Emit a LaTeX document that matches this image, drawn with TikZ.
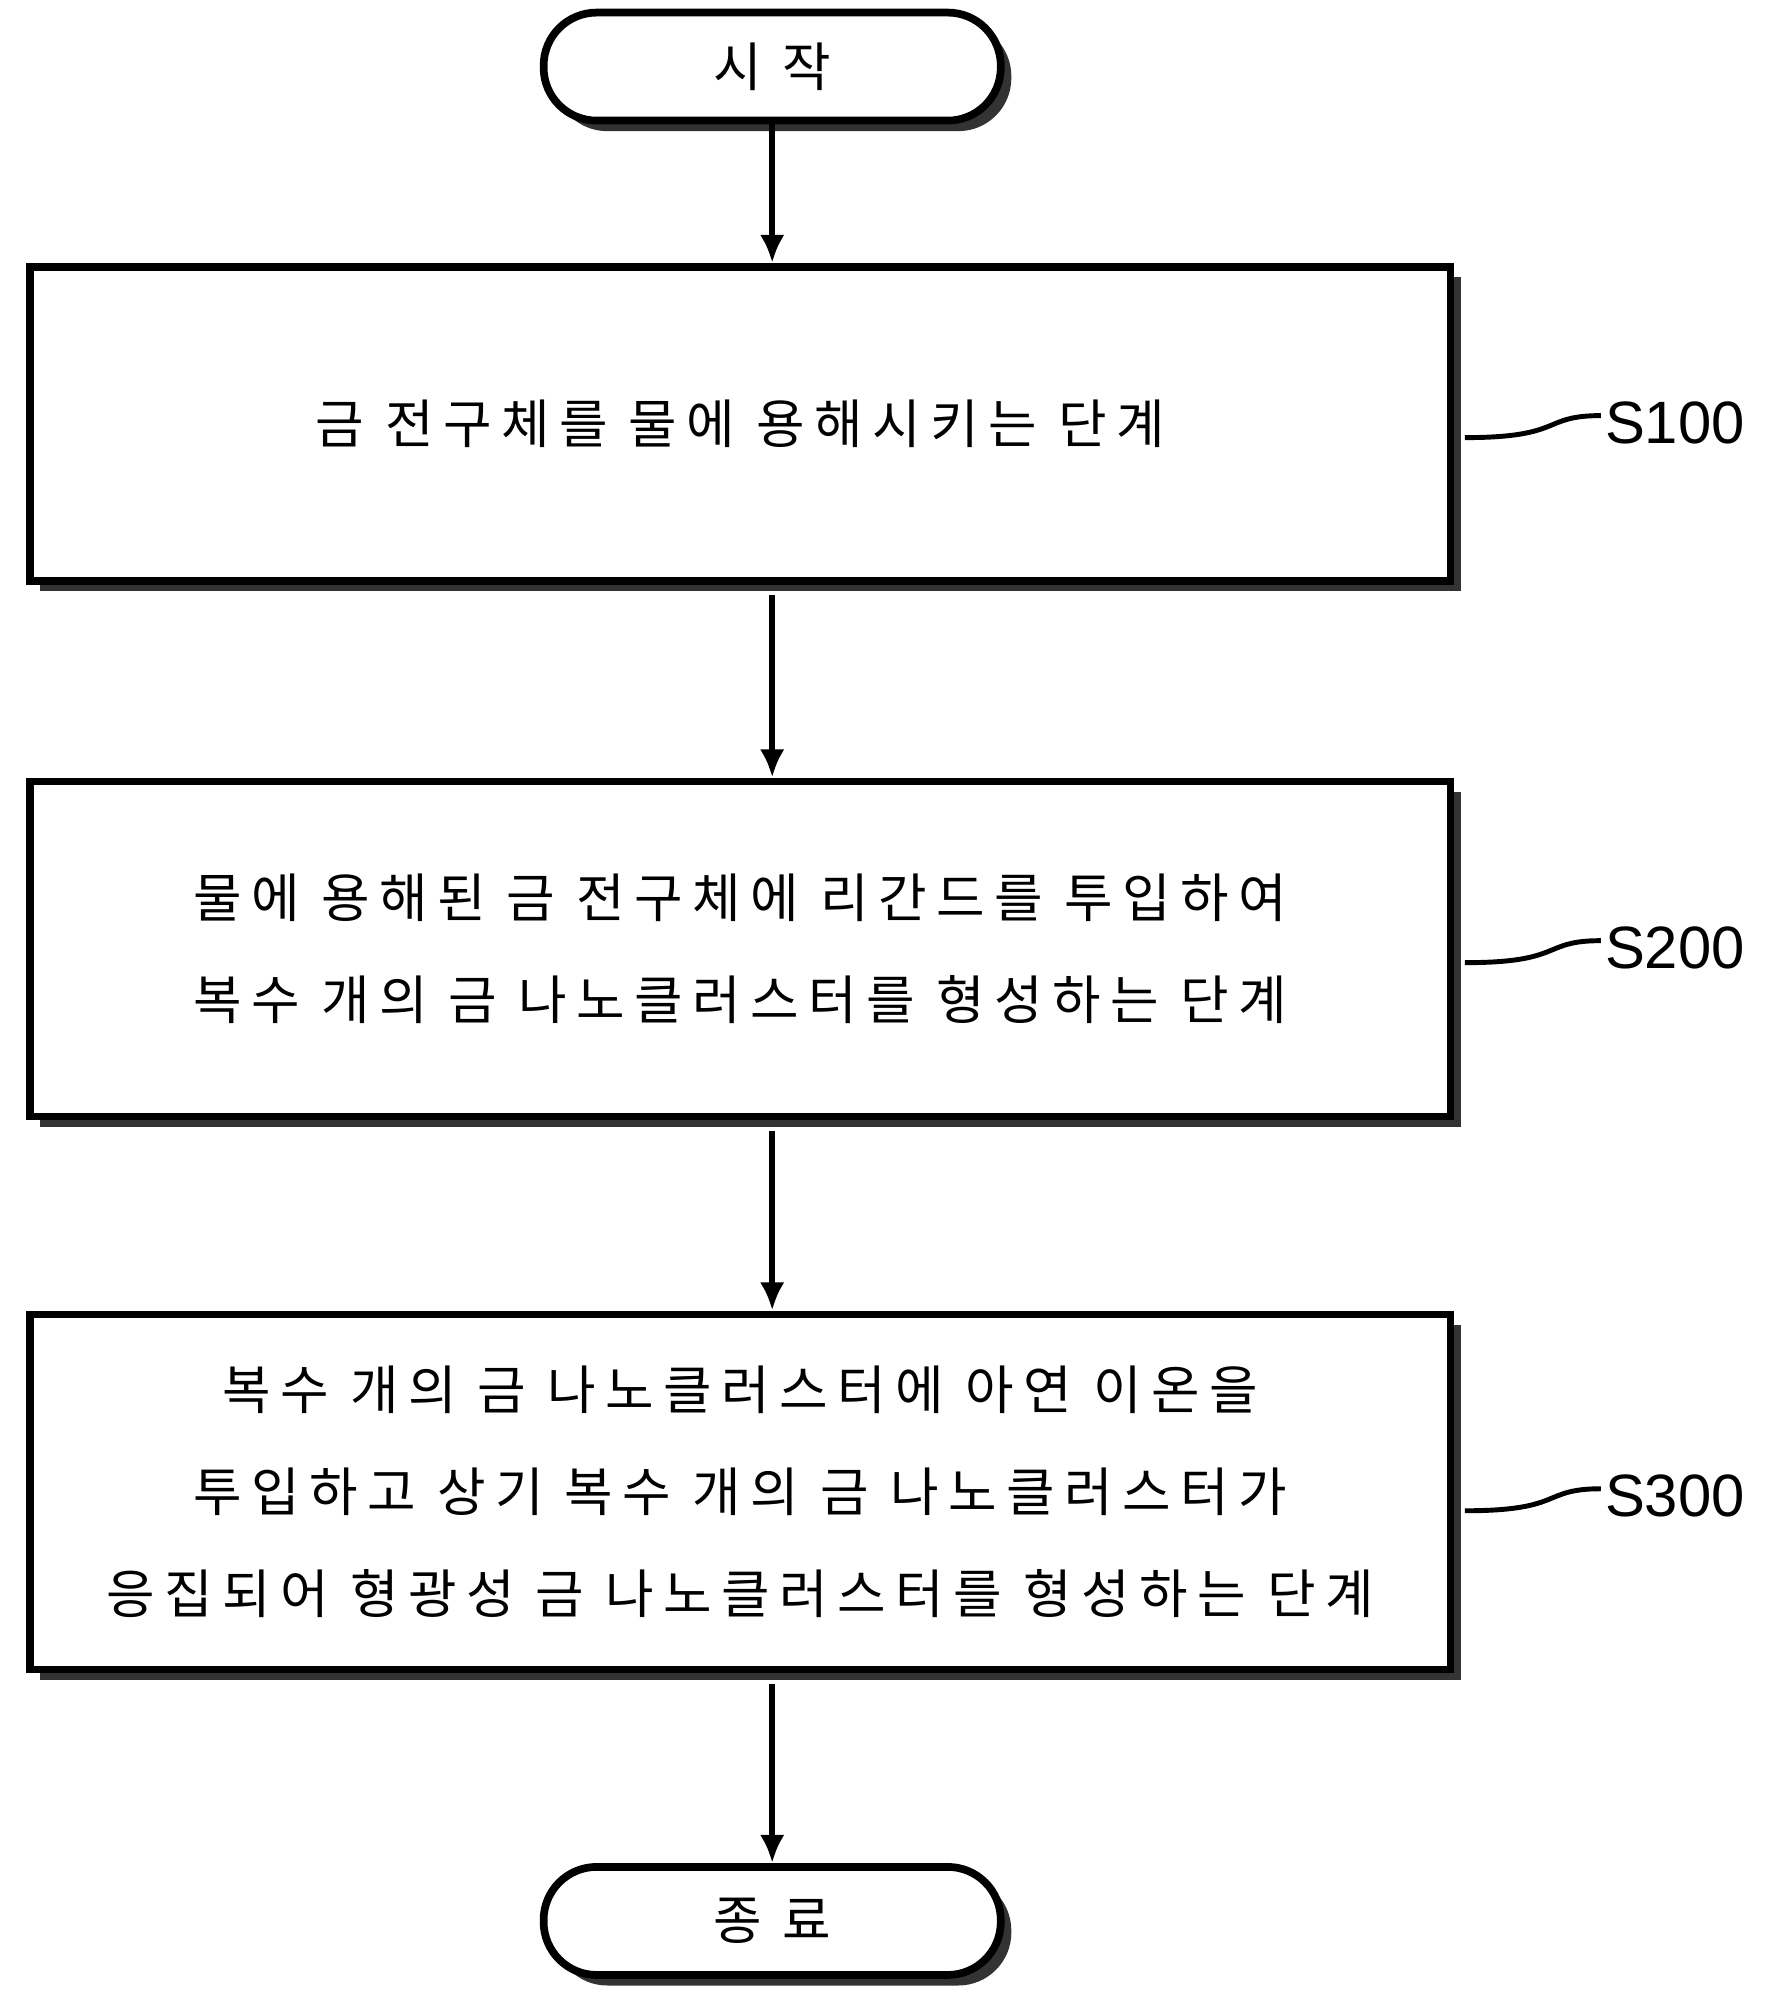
\documentclass[tikz,border=0pt]{standalone}
\usepackage{fontspec}
\newfontfamily\kr[LetterSpace=18]{Noto Sans CJK KR}
\setmainfont{Liberation Sans}
\usetikzlibrary{shadows,arrows.meta}
\tikzset{
  box/.style={draw,line width=2.2pt,fill=white,minimum width=14.2cm,minimum height=#1,
    drop shadow={shadow xshift=3pt,shadow yshift=-3pt,fill=black!80,opacity=1},
    align=center,font=\kr\fontsize{15}{29}\selectfont},
  term/.style={draw,line width=2.2pt,fill=white,rounded corners=0.53cm,minimum width=4.57cm,minimum height=1.08cm,
    drop shadow={shadow xshift=3pt,shadow yshift=-3pt,fill=black!80,opacity=1},
    font=\kr\fontsize{15}{18}\selectfont},
  flow/.style={line width=1.6pt,-{Latex[length=8pt,width=7pt]}},
  tag/.style={font=\fontsize{17}{20}\selectfont,anchor=west,inner sep=1pt}
}
\begin{document}
\begin{tikzpicture}[x=0.0128cm,y=-0.0128cm]
  \useasboundingbox (0,0) rectangle (1384,1568);
  \node[term] (start) at (603,52) {시 작};
  \node[box=3.14cm] (s1) at (578,331) {금 전구체를 물에 용해시키는 단계};
  \node[box=3.35cm] (s2) at (578,741) {물에 용해된 금 전구체에 리간드를 투입하여\\복수 개의 금 나노클러스터를 형성하는 단계};
  \node[box=3.55cm] (s3) at (578,1165) {복수 개의 금 나노클러스터에 아연 이온을\\투입하고 상기 복수 개의 금 나노클러스터가\\응집되어 형광성 금 나노클러스터를 형성하는 단계};
  \node[term] (stop) at (603,1500) {종 료};
  % arrows
  \draw[flow] (start.south) -- (s1.north -| start);
  \draw[flow] (s1.south -| start) ++(0,8) -- (s2.north -| start);
  \draw[flow] (s2.south -| start) ++(0,8) -- (s3.north -| start);
  \draw[flow] (s3.south -| start) ++(0,8) -- (stop.north);
  % step labels
  \foreach \s/\t/\y in {s1/S100/330,s2/S200/740,s3/S300/1168}{
    \node[tag] (l\s) at (1250,\y) {\t};
    \draw[line width=1.4pt] ([xshift=3pt,yshift=-0.15cm]\s.east |- l\s.west) .. controls +(1.0cm,0) and +(-0.6cm,0) .. ([yshift=0.07cm]l\s.west);
  }
\end{tikzpicture}
\end{document}
